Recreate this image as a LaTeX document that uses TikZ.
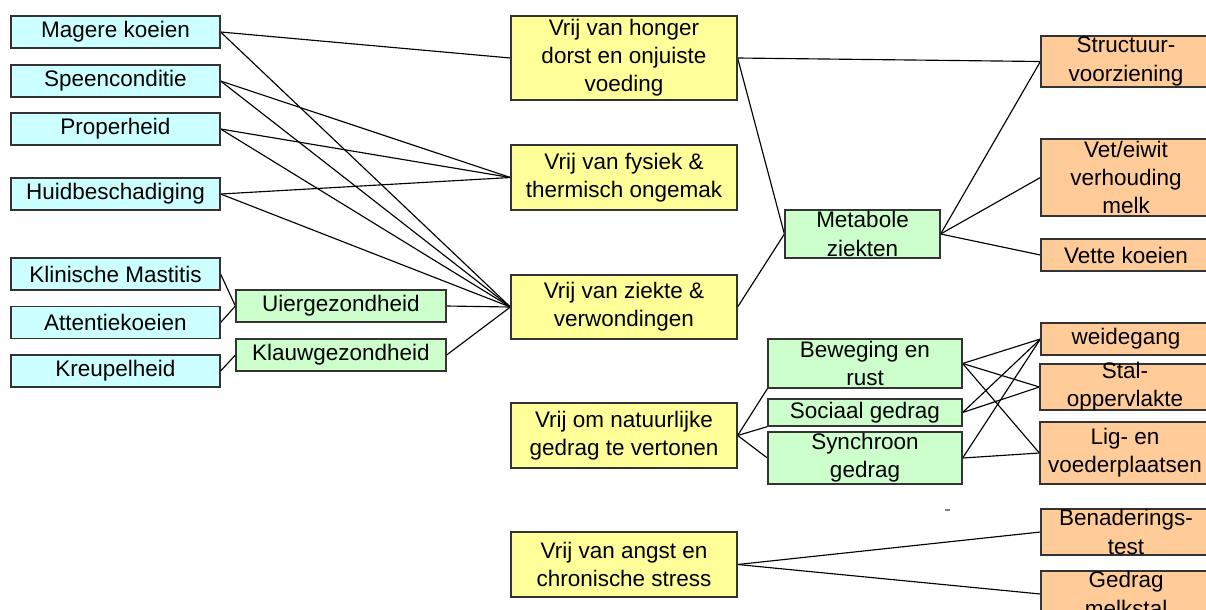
\documentclass[tikz,border=0pt]{standalone}
\usepackage{fontspec}
\setmainfont{Liberation Sans}
\usepackage{tikz}
\usetikzlibrary{backgrounds}
\newcommand{\px}{0.02cm}
\newcommand{\edgecolor}{black!80}
\definecolor{cyanbox}{HTML}{CCFFFF}
\definecolor{greenbox}{HTML}{CCFFCC}
\definecolor{yellowbox}{HTML}{FFFF99}
\definecolor{orangebox}{HTML}{FFCC99}
\tikzset{
  box/.style={rectangle, draw=\edgecolor, line width=0.7pt, inner sep=0pt},
  cbox/.style={box, fill=cyanbox, minimum width=209*\px, minimum height=32*\px},
  gbox/.style={box, fill=greenbox},
  ybox/.style={box, fill=yellowbox, minimum width=226*\px},
  obox/.style={box, fill=orangebox, minimum width=170*\px},
  txt/.style={align=center, inner sep=0pt, font=\fontsize{12.8}{16}\selectfont},
  link/.style={draw=black, line width=0.65pt},
}

\begin{document}
\begin{tikzpicture}[x=\px, y=-\px]
\useasboundingbox (0,0) rectangle (1206,609);
% indicators
\node[cbox] (mager) at (115.5, 32) {};
\node[txt] (mager-t) at (mager) {Magere koeien};
\node[cbox] (speen) at (115.5, 81) {};
\node[txt] (speen-t) at (speen) {Speenconditie};
\node[cbox] (proper) at (115.5, 129) {};
\node[txt] (proper-t) at (proper) {Properheid};
\node[cbox] (huid) at (115.5, 194) {};
\node[txt] (huid-t) at (huid) {Huidbeschadiging};
\node[cbox] (mastitis) at (115.5, 274) {};
\node[txt] (mastitis-t) at (mastitis) {Klinische Mastitis};
\node[cbox] (attentie) at (115.5, 322.5) {};
\node[txt] (attentie-t) at (attentie) {Attentiekoeien};
\node[cbox] (kreupel) at (115.5, 371) {};
\node[txt] (kreupel-t) at (kreupel) {Kreupelheid};
\node[gbox, minimum width=210*\px, minimum height=32*\px] (uier) at (341, 306) {};
\node[txt] (uier-t) at (uier) {Uiergezondheid};
\node[gbox, minimum width=210*\px, minimum height=32*\px] (klauw) at (341, 355) {};
\node[txt] (klauw-t) at (klauw) {Klauwgezondheid};
% vrijheden
\node[ybox, minimum height=84*\px] (honger) at (624, 58) {};
\node[txt] (honger-t) at (honger) {Vrij van honger\\dorst en onjuiste\\voeding};
\node[ybox, minimum height=65*\px] (fysiek) at (624, 177.5) {};
\node[txt] (fysiek-t) at (fysiek) {Vrij van fysiek \&\\thermisch ongemak};
\node[ybox, minimum height=64*\px] (ziekte) at (624, 307) {};
\node[txt] (ziekte-t) at (ziekte) {Vrij van ziekte \&\\verwondingen};
\node[ybox, minimum height=65*\px] (natuur) at (624, 435.5) {};
\node[txt] (natuur-t) at (natuur) {Vrij om natuurlijke\\gedrag te vertonen};
\node[ybox, minimum height=65*\px] (angst) at (624, 564.5) {};
\node[txt] (angst-t) at (angst) {Vrij van angst en\\chronische stress};
% tussenlaag
\node[gbox, minimum width=155*\px, minimum height=48*\px] (metabool) at (862.5, 234) {};
\node[txt] (metabool-t) at (metabool) {Metabole\\ziekten};
\node[gbox, minimum width=194*\px, minimum height=49*\px] (beweging) at (865, 363.5) {};
\node[txt] (beweging-t) at (beweging) {Beweging en\\rust};
\node[gbox, minimum width=194*\px, minimum height=27*\px] (sociaal) at (865, 412.5) {};
\node[txt] (sociaal-t) at (sociaal) {Sociaal gedrag};
\node[gbox, minimum width=194*\px, minimum height=52*\px] (synchroon) at (865, 458) {};
\node[txt] (synchroon-t) at (synchroon) {Synchroon\\gedrag};
% maatregelen
\node[obox, minimum height=51*\px] (structuur) at (1126, 61.5) {};
\node[txt] (structuur-t) at (structuur) {Structuur-\\voorziening};
\node[obox, minimum height=77*\px] (veteiwit) at (1126, 177.5) {};
\node[txt] (veteiwit-t) at (veteiwit) {Vet/eiwit\\verhouding\\melk};
\node[obox, minimum height=32*\px] (vette) at (1126, 255) {};
\node[txt] (vette-t) at (vette) {Vette koeien};
\node[obox, minimum height=32*\px] (weide) at (1126, 339) {};
\node[txt] (weide-t) at (weide) {weidegang};
\node[obox, minimum height=46*\px] (stal) at (1125, 387) {};
\node[txt] (stal-t) at (stal) {Stal-\\oppervlakte};
\node[obox, minimum height=62*\px] (lig) at (1125, 453) {};
\node[txt] (lig-t) at (lig) {Lig- en\\voederplaatsen};
\node[obox, minimum height=46*\px] (benadering) at (1126, 532) {};
\node[txt] (benadering-t) at (benadering) {Benaderings-\\test};
\node[obox, minimum height=46*\px] (melkstal) at (1126, 594) {};
\node[txt] (melkstal-t) at (melkstal) {Gedrag\\melkstal};
\fill[gray] (945, 509) rectangle (950, 511);
% verbindingen
\begin{scope}[on background layer]
\draw[link] (mager.east) -- (honger.west);
\draw[link] (mager.east) -- (ziekte.west);
\draw[link] (speen.east) -- (fysiek.west);
\draw[link] (speen.east) -- (ziekte.west);
\draw[link] (proper.east) -- (fysiek.west);
\draw[link] (proper.east) -- (ziekte.west);
\draw[link] (huid.east) -- (fysiek.west);
\draw[link] (huid.east) -- (ziekte.west);
\draw[link] (mastitis.east) -- (uier.west);
\draw[link] (attentie.east) -- (uier.west);
\draw[link] (kreupel.east) -- (klauw.west);
\draw[link] (uier.east) -- (ziekte.west);
\draw[link] (klauw.east) -- (ziekte.west);
\draw[link] (honger.east) -- (structuur.west);
\draw[link] (honger.east) -- (metabool.west);
\draw[link] (ziekte.east) -- (metabool.west);
\draw[link] (metabool.east) -- (structuur.west);
\draw[link] (metabool.east) -- (veteiwit.west);
\draw[link] (metabool.east) -- (vette.west);
\draw[link] (natuur.east) -- (beweging.south west);
\draw[link] (natuur.east) -- (sociaal.south west);
\draw[link] (natuur.east) -- (synchroon.west);
\draw[link] (beweging.east) -- (weide.west);
\draw[link] (beweging.east) -- (stal.west);
\draw[link] (beweging.east) -- (lig.west);
\draw[link] (sociaal.east) -- (weide.west);
\draw[link] (sociaal.east) -- (stal.west);
\draw[link] (synchroon.east) -- (weide.west);
\draw[link] (synchroon.east) -- (lig.west);
\draw[link] (angst.east) -- (benadering.west);
\draw[link] (angst.east) -- (melkstal.west);
\end{scope}
\end{tikzpicture}
\end{document}
